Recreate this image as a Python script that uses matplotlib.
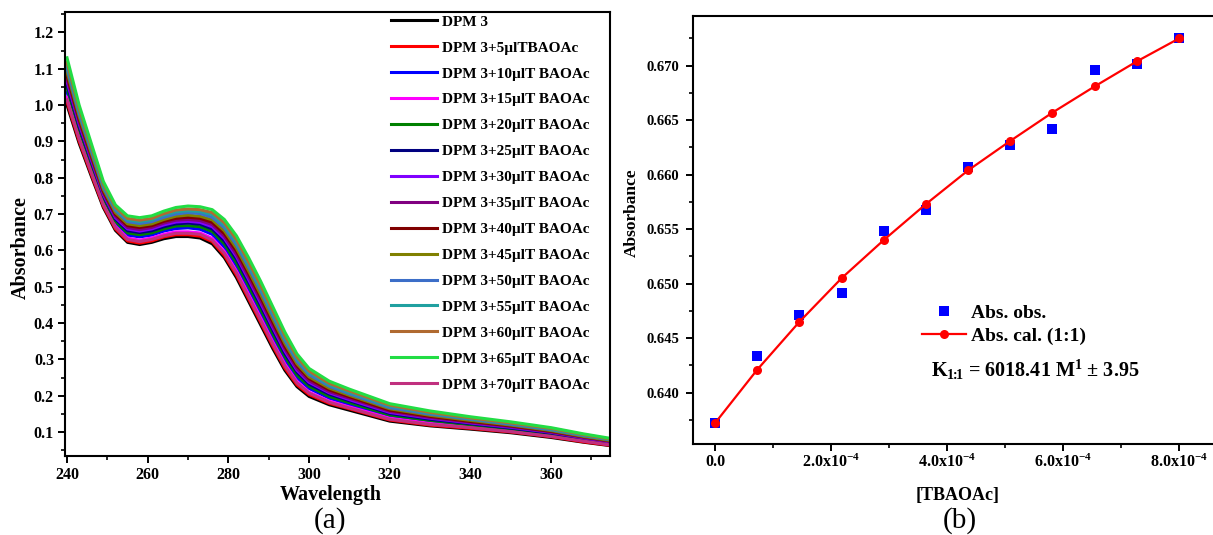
import matplotlib
matplotlib.use("Agg")
import matplotlib.pyplot as plt
from matplotlib.ticker import MultipleLocator, FixedLocator, FixedFormatter, FormatStrFormatter

plt.rcParams['font.family'] = ['Liberation Serif', 'DejaVu Serif']
plt.rcParams['font.weight'] = 'bold'
plt.rcParams['mathtext.fontset'] = 'custom'
plt.rcParams['mathtext.rm'] = 'Liberation Serif:bold'
plt.rcParams['mathtext.it'] = 'Liberation Serif:bold:italic'
plt.rcParams['mathtext.bf'] = 'Liberation Serif:bold'

# ---------------- Panel (a): UV-vis spectra ----------------
wavelength = [240, 243, 246, 249, 252, 255, 258, 261, 264, 267, 270, 273, 276, 279, 282,
              285, 288, 291, 294, 297, 300, 305, 310, 320, 330, 340, 350, 360, 368, 375]

abs_dpm3 = [1.000, 0.895, 0.805, 0.718, 0.655, 0.622, 0.616, 0.622, 0.632, 0.638, 0.638, 0.634, 0.618, 0.580, 0.525,
            0.460, 0.395, 0.330, 0.270, 0.225, 0.198, 0.175, 0.160, 0.130, 0.117, 0.108, 0.098, 0.085, 0.072, 0.062]
abs_5 = [1.008, 0.901, 0.810, 0.722, 0.659, 0.626, 0.620, 0.626, 0.637, 0.643, 0.643, 0.639, 0.624, 0.586, 0.532,
         0.467, 0.402, 0.337, 0.276, 0.230, 0.203, 0.179, 0.164, 0.133, 0.119, 0.110, 0.100, 0.087, 0.073, 0.063]
abs_10 = [1.036, 0.924, 0.830, 0.738, 0.675, 0.642, 0.637, 0.642, 0.653, 0.660, 0.662, 0.658, 0.644, 0.609, 0.557,
          0.494, 0.429, 0.362, 0.299, 0.250, 0.220, 0.193, 0.176, 0.143, 0.129, 0.118, 0.106, 0.093, 0.078, 0.068]
abs_15 = [1.021, 0.912, 0.819, 0.730, 0.666, 0.634, 0.628, 0.634, 0.644, 0.651, 0.651, 0.648, 0.633, 0.597, 0.543,
          0.479, 0.414, 0.348, 0.287, 0.239, 0.210, 0.185, 0.169, 0.138, 0.124, 0.113, 0.103, 0.089, 0.076, 0.065]
abs_20 = [1.047, 0.933, 0.837, 0.744, 0.680, 0.648, 0.643, 0.648, 0.659, 0.667, 0.668, 0.665, 0.652, 0.618, 0.566,
          0.503, 0.438, 0.371, 0.308, 0.257, 0.226, 0.198, 0.181, 0.147, 0.132, 0.120, 0.109, 0.095, 0.080, 0.069]
abs_25 = [1.057, 0.941, 0.845, 0.750, 0.686, 0.654, 0.649, 0.654, 0.665, 0.673, 0.675, 0.672, 0.659, 0.626, 0.576,
          0.513, 0.448, 0.381, 0.316, 0.265, 0.232, 0.204, 0.186, 0.151, 0.135, 0.123, 0.111, 0.097, 0.082, 0.071]
abs_30 = [1.065, 0.948, 0.850, 0.754, 0.690, 0.659, 0.653, 0.659, 0.670, 0.678, 0.680, 0.677, 0.665, 0.633, 0.583,
          0.520, 0.455, 0.388, 0.323, 0.270, 0.237, 0.208, 0.189, 0.154, 0.138, 0.125, 0.113, 0.099, 0.084, 0.072]
abs_35 = [1.073, 0.954, 0.855, 0.758, 0.694, 0.663, 0.657, 0.663, 0.675, 0.683, 0.685, 0.682, 0.671, 0.639, 0.589,
          0.527, 0.462, 0.394, 0.329, 0.275, 0.241, 0.211, 0.193, 0.157, 0.140, 0.127, 0.115, 0.100, 0.085, 0.073]
abs_40 = [1.082, 0.961, 0.862, 0.763, 0.699, 0.668, 0.663, 0.668, 0.680, 0.688, 0.691, 0.688, 0.677, 0.646, 0.598,
          0.536, 0.471, 0.403, 0.336, 0.282, 0.247, 0.216, 0.197, 0.160, 0.143, 0.129, 0.117, 0.102, 0.087, 0.075]
abs_45 = [1.091, 0.969, 0.868, 0.768, 0.704, 0.673, 0.668, 0.673, 0.685, 0.694, 0.697, 0.694, 0.684, 0.654, 0.606,
          0.544, 0.479, 0.411, 0.344, 0.288, 0.252, 0.221, 0.201, 0.164, 0.146, 0.132, 0.119, 0.104, 0.088, 0.076]
abs_50 = [1.101, 0.977, 0.875, 0.774, 0.710, 0.679, 0.674, 0.679, 0.691, 0.700, 0.704, 0.701, 0.691, 0.662, 0.615,
          0.554, 0.489, 0.420, 0.352, 0.295, 0.258, 0.226, 0.205, 0.167, 0.149, 0.135, 0.121, 0.106, 0.090, 0.078]
abs_55 = [1.111, 0.984, 0.882, 0.779, 0.715, 0.684, 0.679, 0.684, 0.697, 0.706, 0.709, 0.707, 0.698, 0.669, 0.623,
          0.562, 0.497, 0.428, 0.359, 0.302, 0.264, 0.230, 0.209, 0.171, 0.152, 0.137, 0.124, 0.108, 0.092, 0.079]
abs_60 = [1.118, 0.991, 0.887, 0.784, 0.719, 0.688, 0.683, 0.688, 0.701, 0.711, 0.714, 0.712, 0.704, 0.676, 0.630,
          0.569, 0.504, 0.435, 0.366, 0.307, 0.268, 0.234, 0.213, 0.174, 0.154, 0.139, 0.125, 0.110, 0.093, 0.080]
abs_65 = [1.130, 1.000, 0.895, 0.790, 0.725, 0.695, 0.690, 0.695, 0.708, 0.718, 0.722, 0.720, 0.712, 0.685, 0.640,
          0.580, 0.515, 0.445, 0.375, 0.315, 0.275, 0.240, 0.218, 0.178, 0.158, 0.142, 0.128, 0.112, 0.095, 0.082]
abs_70 = [1.014, 0.907, 0.815, 0.726, 0.663, 0.630, 0.624, 0.630, 0.640, 0.647, 0.647, 0.644, 0.628, 0.592, 0.538,
          0.473, 0.408, 0.343, 0.282, 0.235, 0.207, 0.182, 0.166, 0.135, 0.121, 0.112, 0.101, 0.088, 0.075, 0.064]

spectra = [abs_dpm3, abs_5, abs_10, abs_15, abs_20, abs_25, abs_30, abs_35,
           abs_40, abs_45, abs_50, abs_55, abs_60, abs_65, abs_70]
spectra_labels = ["DPM 3", "DPM 3+5µlTBAOAc", "DPM 3+10µlT BAOAc", "DPM 3+15µlT BAOAc",
                  "DPM 3+20µlT BAOAc", "DPM 3+25µlT BAOAc", "DPM 3+30µlT BAOAc",
                  "DPM 3+35µlT BAOAc", "DPM 3+40µlT BAOAc", "DPM 3+45µlT BAOAc",
                  "DPM 3+50µlT BAOAc", "DPM 3+55µlT BAOAc", "DPM 3+60µlT BAOAc",
                  "DPM 3+65µlT BAOAc", "DPM 3+70µlT BAOAc"]
spectra_colors = ["#000000", "#FF0000", "#0000FF", "#FF00FF", "#008000", "#000080",
                  "#8000FF", "#800080", "#800000", "#808000", "#3C6EC8", "#20A0A0",
                  "#B06A30", "#22DD44", "#C0307F"]

# ---------------- Panel (b): binding fit ----------------
conc_tbaoac = [0.0, 0.727e-4, 1.455e-4, 2.182e-4, 2.909e-4, 3.636e-4,
               4.364e-4, 5.091e-4, 5.818e-4, 6.545e-4, 7.273e-4, 8.0e-4]
abs_obs = [0.6372, 0.6434, 0.6471, 0.6491, 0.6548, 0.6568,
           0.6607, 0.6627, 0.6642, 0.6696, 0.6702, 0.6725]
abs_cal = [0.6372, 0.6421, 0.6465, 0.6505, 0.6540, 0.6573,
           0.6604, 0.6631, 0.6657, 0.6681, 0.6704, 0.6725]
xb_ticks = [0.0, 2.0e-4, 4.0e-4, 6.0e-4, 8.0e-4]
xb_ticklabels = ["0.0", "2.0x10$^{-4}$", "4.0x10$^{-4}$", "6.0x10$^{-4}$", "8.0x10$^{-4}$"]

W, H = 1213, 535
fig = plt.figure(figsize=(W / 100, H / 100), dpi=100)

def px_axes(l, t, r, b):
    return fig.add_axes([l / W, 1 - b / H, (r - l) / W, (b - t) / H])

# ---- panel a ----
ax1 = px_axes(65, 12, 610, 456)
for y, lab, col in zip(spectra, spectra_labels, spectra_colors):
    ax1.plot(wavelength, y, color=col, lw=2.2, label=lab)
ax1.set_xlim(239.5, 374.6)
ax1.set_ylim(0.034, 1.256)
ax1.xaxis.set_major_locator(MultipleLocator(20))
ax1.xaxis.set_minor_locator(MultipleLocator(10))
ax1.yaxis.set_major_locator(FixedLocator([0.1, 0.2, 0.3, 0.4, 0.5, 0.6, 0.7, 0.8, 0.9, 1.0, 1.1, 1.2]))
ax1.yaxis.set_minor_locator(MultipleLocator(0.05))
ax1.tick_params(which='major', direction='out', length=5, width=1.4, labelsize=11.5, pad=3)
ax1.tick_params(which='minor', direction='out', length=3, width=1.2)
for s in ax1.spines.values():
    s.set_linewidth(1.5)
ax1.set_xlabel("Wavelength", fontsize=14.5, fontweight='bold')
ax1.xaxis.set_label_coords(0.488, -0.066)
ax1.set_ylabel("Absorbance", fontsize=14.5, fontweight='bold')
ax1.yaxis.set_label_coords(-0.063, 0.47)
for lab in ax1.get_xticklabels() + ax1.get_yticklabels():
    lab.set_fontweight('bold')
leg1 = ax1.legend(loc='upper left', bbox_to_anchor=(391 / W, 1 - 15 / H),
                  bbox_transform=fig.transFigure, frameon=False, fontsize=11,
                  handlelength=3.0, handletextpad=0.35, labelspacing=0.8,
                  borderpad=0, borderaxespad=0)
for t in leg1.get_texts():
    t.set_fontweight('bold')
fig.text(330 / W, 1 - 521 / H, "(a)", ha='center', va='center', fontsize=21, fontweight='normal')

# ---- panel b ----
ax2 = px_axes(693, 15.7, 1225, 444)
ax2.plot(conc_tbaoac, abs_obs, linestyle='none', marker='s', ms=6.5, color='#0000FF',
         markeredgewidth=0, label='Abs. obs.')
ax2.plot(conc_tbaoac, abs_cal, color='#FF0000', lw=1.6, marker='o', ms=6.5,
         markeredgewidth=0, label='Abs. cal. (1:1)')
ax2.set_xlim(-3.79e-5, 8.793e-4)
ax2.set_ylim(0.63529, 0.67459)
ax2.xaxis.set_major_locator(FixedLocator(xb_ticks))
ax2.xaxis.set_major_formatter(FixedFormatter(xb_ticklabels))
ax2.xaxis.set_minor_locator(MultipleLocator(1e-4))
ax2.yaxis.set_major_locator(MultipleLocator(0.005))
ax2.yaxis.set_minor_locator(MultipleLocator(0.0025))
ax2.yaxis.set_major_formatter(FormatStrFormatter('%.3f'))
ax2.tick_params(which='major', direction='out', length=5, width=1.4, labelsize=10.5, pad=5)
ax2.tick_params(axis='x', which='major', labelsize=11.5, pad=2)
ax2.tick_params(which='minor', direction='out', length=3, width=1.2)
for s in ax2.spines.values():
    s.set_linewidth(1.5)
ax2.spines['right'].set_visible(False)
for lab in ax2.get_xticklabels() + ax2.get_yticklabels():
    lab.set_fontweight('bold')
ax2.set_xlabel("[TBAOAc]", fontsize=13, fontweight='bold')
ax2.xaxis.set_label_coords(0.498, -0.1)
ax2.set_ylabel("Absorbance", fontsize=12.5, fontweight='bold')
ax2.yaxis.set_label_coords(-0.1, 0.54)
leg2 = ax2.legend(loc='upper left', bbox_to_anchor=(922 / W, 1 - 304 / H),
                  bbox_transform=fig.transFigure, frameon=False, fontsize=14,
                  handlelength=2.25, handletextpad=0.28, labelspacing=0.3,
                  borderpad=0, borderaxespad=0)
for t in leg2.get_texts():
    t.set_fontweight('bold')
fig.text(931 / W, 1 - 370 / H, r"K$_{1\!\!:\!\!1}$ = 6018.41 M$^{1}$ ± 3.95", ha='left', va='center',
         fontsize=14.5, fontweight='bold')
fig.text(960 / W, 1 - 521 / H, "(b)", ha='center', va='center', fontsize=21, fontweight='normal')

fig.savefig("out.png", dpi=100)
